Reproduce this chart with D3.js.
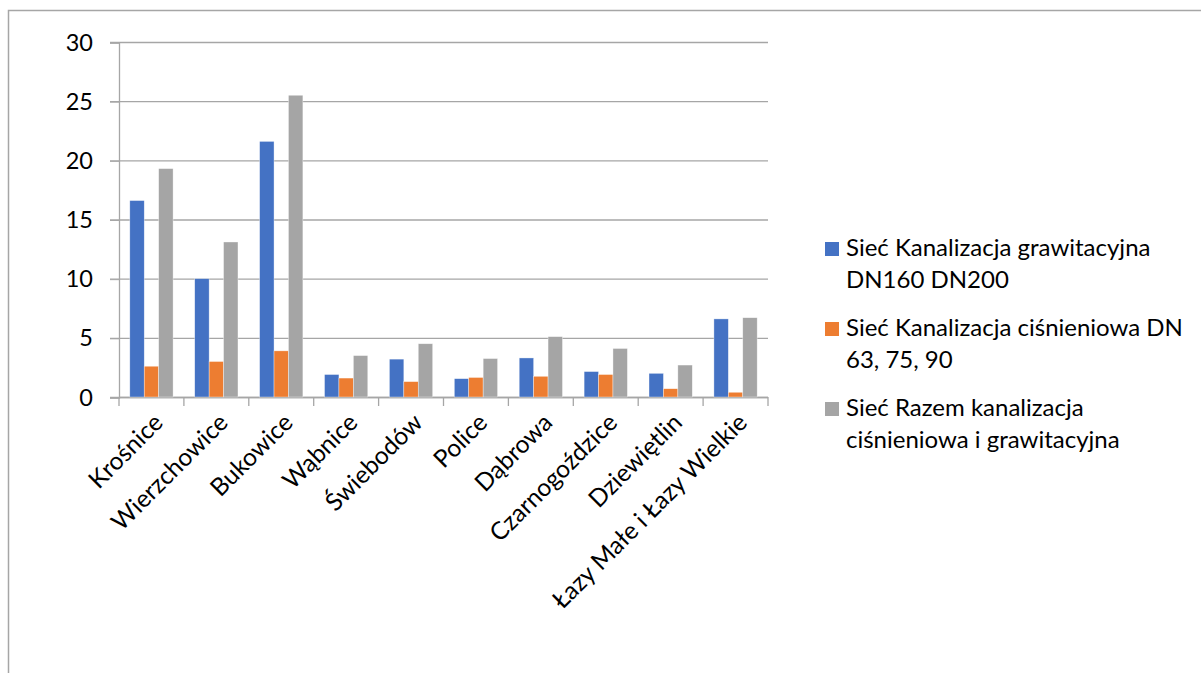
<!DOCTYPE html>
<html>
<head>
<meta charset="utf-8">
<script src="https://cdn.jsdelivr.net/npm/d3@7"></script>
<style>
    body { margin: 0; background: #fff; }
    svg { display: block; font-family: Lato, "Open Sans", sans-serif; }
</style>
</head>
<body>
<div id="chart"></div>
<script>
/*global d3 */
(function () {
    "use strict";

    ////////////////////////////////////////
    // data
    ////////////////////////////////////////

    var categories = ["Krośnice", "Wierzchowice", "Bukowice", "Wąbnice",
                      "Świebodów", "Police", "Dąbrowa", "Czarnogoździce",
                      "Dziewiętlin", "Łazy Małe i Łazy Wielkie"],
        grawitacyjna = [16.6, 10.0, 21.6, 1.9, 3.2, 1.55, 3.3, 2.15, 2.0, 6.6],
        cisnieniowa = [2.6, 3.0, 3.9, 1.6, 1.3, 1.65, 1.75, 1.9, 0.7, 0.4],
        razem = [19.3, 13.1, 25.5, 3.5, 4.5, 3.25, 5.1, 4.1, 2.7, 6.7],
        yTicks = [0, 5, 10, 15, 20, 25, 30],
        seriesNames = [["Sieć Kanalizacja grawitacyjna", "DN160 DN200"],
                       ["Sieć Kanalizacja ciśnieniowa DN", "63, 75, 90"],
                       ["Sieć Razem kanalizacja",
                        "ciśnieniowa i grawitacyjna"]],
        seriesColors = ["#4472C4", "#ED7D31", "#A5A5A5"],
        seriesValues = [grawitacyjna, cisnieniowa, razem],

    ////////////////////////////////////////
    // layout
    ////////////////////////////////////////

        width = 1201, height = 673,
        lay = {left: 119, right: 768, top: 42, bottom: 397,
               gridc: "#A6A6A6", textc: "#000", axisfs: "23.5px",
               catfs: "24.5px", legfs: "24px"},
        svg, x, xs, y, groups, legend;

    svg = d3.select("#chart").append("svg")
        .attr("width", width).attr("height", height);

    // outer chart frame, runs off the right and bottom edges
    svg.append("rect")
        .attr("x", 8.5).attr("y", 10.5)
        .attr("width", width + 20).attr("height", height + 20)
        .attr("fill", "none").attr("stroke", lay.gridc)
        .attr("stroke-width", 1.5);

    x = d3.scaleBand().domain(categories)
        .range([lay.left, lay.right]).padding(0);
    // gap width 150% of a bar
    xs = d3.scaleBand().domain(d3.range(3))
        .range([x.bandwidth() * 0.75 / 4.5, x.bandwidth() -
                x.bandwidth() * 0.75 / 4.5]).padding(0);
    y = d3.scaleLinear().domain([0, 30]).range([lay.bottom, lay.top]);

    // gridlines
    svg.append("g").selectAll("line").data(yTicks).join("line")
        .attr("x1", lay.left - 9).attr("x2", lay.right)
        .attr("y1", function (d) { return y(d) + 0.5; })
        .attr("y2", function (d) { return y(d) + 0.5; })
        .attr("stroke", lay.gridc).attr("stroke-width", 1.3);

    // y axis
    svg.append("g")
        .attr("transform", "translate(" + lay.left + ",0.5)")
        .call(d3.axisLeft(y).tickValues(yTicks).tickSize(9)
              .tickPadding(17))
        .call(function (g) {
            g.select(".domain").attr("stroke", lay.gridc)
                .attr("stroke-width", 1.3);
            g.selectAll(".tick line").attr("stroke", lay.gridc);
            g.selectAll(".tick text").attr("fill", lay.textc)
                .style("font-size", lay.axisfs)
                .style("font-family", "Lato, sans-serif");
        });

    // x axis line and category boundary ticks
    svg.append("line")
        .attr("x1", lay.left).attr("x2", lay.right)
        .attr("y1", lay.bottom + 0.5).attr("y2", lay.bottom + 0.5)
        .attr("stroke", lay.gridc).attr("stroke-width", 1.3);
    svg.append("g").selectAll("line")
        .data(categories.concat([null])).join("line")
        .attr("x1", function (d, i) {
            return lay.left + i * x.step(); })
        .attr("x2", function (d, i) {
            return lay.left + i * x.step(); })
        .attr("y1", lay.bottom).attr("y2", lay.bottom + 9)
        .attr("stroke", lay.gridc).attr("stroke-width", 1.3);

    // bars
    groups = svg.append("g").selectAll("g").data(categories).join("g")
        .attr("transform", function (d) {
            return "translate(" + x(d) + ",0)"; });
    groups.selectAll("rect")
        .data(function (d, i) {
            return seriesValues.map(function (s, k) {
                return {k: k, v: s[i]}; }); })
        .join("rect")
        .attr("x", function (d) { return xs(d.k); })
        .attr("width", xs.bandwidth())
        .attr("y", function (d) { return y(d.v); })
        .attr("height", function (d) { return y(0) - y(d.v); })
        .attr("fill", function (d) { return seriesColors[d.k]; })
        .attr("stroke", "#fff").attr("stroke-width", 0.6)
        .attr("stroke-opacity", 0.6);

    // rotated category labels
    svg.append("g").selectAll("text").data(categories).join("text")
        .attr("transform", function (d) {
            return "translate(" + (x(d) + x.bandwidth() / 2 + 7) + "," +
                (lay.bottom + 21) + ") rotate(-45)"; })
        .attr("text-anchor", "end")
        .attr("dy", "0.35em")
        .style("font-size", lay.catfs)
        .attr("fill", lay.textc)
        .text(function (d) { return d; });

    // legend
    legend = svg.append("g").selectAll("g").data(seriesNames).join("g")
        .attr("transform", function (d, i) {
            return "translate(825," + (242 + i * 80) + ")"; });
    legend.append("rect")
        .attr("width", 14).attr("height", 14)
        .attr("fill", function (d, i) { return seriesColors[i]; });
    legend.selectAll("text").data(function (d) { return d; }).join("text")
        .attr("x", 21)
        .attr("y", function (d, i) { return 14 + i * 32; })
        .style("font-size", lay.legfs)
        .attr("fill", lay.textc)
        .text(function (d) { return d; });
}());
</script>
</body>
</html>
